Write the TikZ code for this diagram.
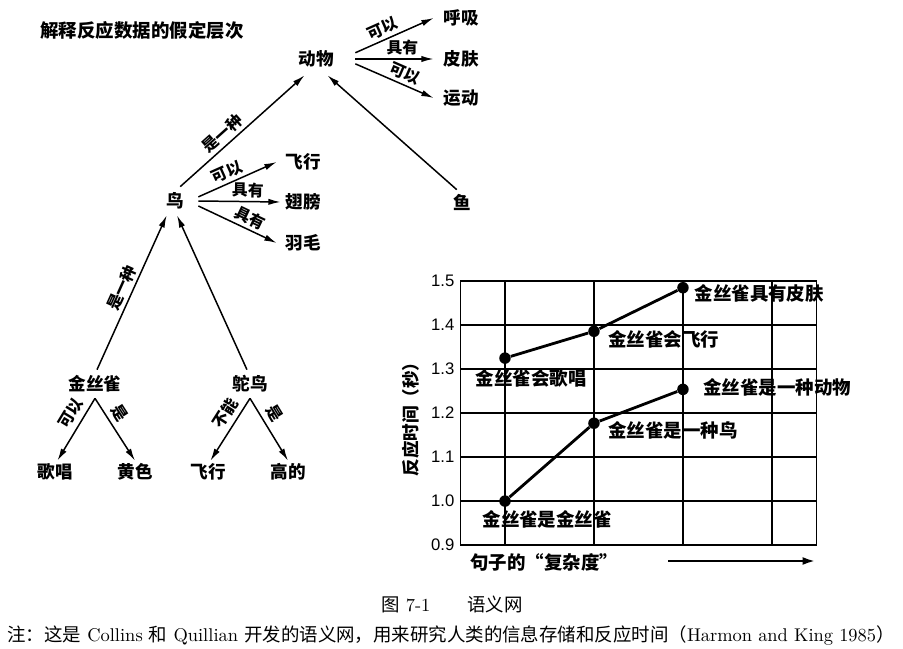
\documentclass[tikz,border=0pt]{standalone}
\usepackage{fontspec}
\newfontfamily\cjk{Noto Sans CJK SC}
\newfontfamily\numfont{Liberation Sans}
\usetikzlibrary{arrows.meta,positioning}

\begin{document}
\begin{tikzpicture}[x=0.02cm,y=-0.02cm,
    word/.style={font=\cjk\bfseries\fontsize{10}{12}\selectfont,inner sep=0pt,minimum height=0.48cm,minimum width=1.04cm},
    rel/.style={font=\cjk\bfseries\fontsize{9}{10}\selectfont,sloped,above,inner sep=1.8pt},
    link/.style={-{Latex[length=7pt,width=3.6pt]},line width=0.85pt},
    grid/.style={line width=0.8pt},
    dot/.style={circle,fill,inner sep=0pt,minimum size=0.23cm},
    series/.style={line width=1.6pt},
    ptlabel/.style={font=\cjk\bfseries\fontsize{10.5}{12}\selectfont,inner sep=0pt},
    ticklabel/.style={font=\numfont\fontsize{9.5}{11}\selectfont}]

\useasboundingbox (0,0) rectangle (903,649);

\node [ptlabel] (title) at (142,30) {解释反应数据的假定层次};

\node [word,minimum width=1.56cm,minimum height=0.64cm] (dw) at (316,59) {动物};
\node [word,minimum width=1.08cm] (hx) at (461,18) {呼吸};
\node [word,minimum width=1.08cm] (pf) at (461,59) {皮肤};
\node [word,minimum width=1.08cm] (yd) at (461,98) {运动};
\node [word,minimum width=0.92cm,minimum height=0.56cm] (nd) at (175,201) {鸟};
\node [word,minimum width=0.92cm] (yu) at (462,202) {鱼};
\node [word] (fx) at (303,162) {飞行};
\node [word,minimum width=0.88cm] (cb) at (303,202) {翅膀};
\node [word] (ym) at (303,243) {羽毛};
\node [word,minimum width=1.4cm,minimum height=0.56cm] (jsq) at (95,384) {金丝雀};
\node [word,minimum height=0.56cm] (tn) at (250,384) {鸵鸟};
\node [word,minimum height=0.44cm] (gc) at (55,472) {歌唱};
\node [word,minimum height=0.44cm] (hs) at (135,472) {黄色};
\node [word,minimum height=0.44cm] (fx2) at (208,472) {飞行};
\node [word,minimum height=0.44cm] (gd) at (288,472) {高的};

\draw [link] (dw.9) -- node [rel,pos=.4] {可以} (hx.west);
\draw [link] (dw.east) -- node [rel,pos=.6] {具有} (pf.west);
\draw [link] (dw.-7) -- node [rel,pos=.58] {可以} (yd.west);
\draw [link] (nd.70) -- node [rel,pos=.4] {是一种} (dw.235);
\draw [link] (yu.113) -- (dw.-55);
\draw [link] (nd.10) -- node [rel,pos=.42] {可以} (fx.west);
\draw [link] (nd.east) -- node [rel,pos=.6] {具有} (cb.west);
\draw [link] (nd.-12) -- node [rel,pos=.6] {具有} (ym.west);
\draw [link] (jsq.82) -- node [rel,pos=.5] {是一种} (nd.240);
\draw [link] (tn.102) -- (nd.-82);
\draw [link] (jsq.south) -- node [rel,pos=.35,inner sep=2.8pt] {可以} (gc.78);
\draw [link] (jsq.south) -- node [rel,pos=.35,inner sep=2.8pt] {是} (hs.north);
\draw [link] (tn.south) -- node [rel,pos=.35,inner sep=2.8pt] {不能} (fx2.78);
\draw [link] (tn.south) -- node [rel,pos=.35,inner sep=2.8pt] {是} (gd.north);

\begin{scope}[shift={(416,941)},x=1.78cm,y=8.8cm]
  \draw [grid] (0.5,0.9) rectangle (4.5,1.5);
  \foreach \v in {1.0,1.1,1.2,1.3,1.4}
    \draw [grid] (0.5,\v) -- (4.5,\v);
  \foreach \c in {1,...,4}
    \draw [grid] (\c,0.9) -- (\c,1.5);
  \foreach \v [count=\i] in {0.9,1.0,1.1,1.2,1.3,1.4,1.5}
    \node [ticklabel,left] (tick\i) at (0.5,\v) {\v};
  \node [dot] (a1) at (1,1.325) {};
  \node [dot] (a2) at (2,1.386) {};
  \node [dot] (a3) at (3,1.485) {};
  \node [dot] (b1) at (1,1.0) {};
  \node [dot] (b2) at (2,1.177) {};
  \node [dot] (b3) at (3,1.254) {};
  \draw [series] (a1) -- (a2) -- (a3);
  \draw [series] (b1) -- (b2) -- (b3);
\end{scope}

\node [ptlabel,right=3pt of a3,yshift=-3.5pt] (la3) {金丝雀具有皮肤};
\node [ptlabel,right=4.5pt of a2,yshift=-4.5pt] (la2) {金丝雀会飞行};
\node [ptlabel,below=3pt of a1,xshift=15pt] (la1) {金丝雀会歌唱};
\node [ptlabel,right=8pt of b3,yshift=1pt] (lb3) {金丝雀是一种动物};
\node [ptlabel,right=4.5pt of b2,yshift=-4pt] (lb2) {金丝雀是一种鸟};
\node [ptlabel,below=1.5pt of b1,xshift=24pt] (lb1) {金丝雀是金丝雀};

\node [ptlabel,rotate=90,font=\cjk\bfseries\fontsize{10}{12}\selectfont] (ylab) at (411,415) {反应时间（秒）};
\node [ptlabel,anchor=west] (xlab) at (470,562) {句子的“复杂度”};
\coordinate (xa) at (668,561);
\coordinate (xb) at (815,561);
\draw [-{Latex[length=7pt,width=4.5pt]},line width=1.2pt] (xa) -- (xb);

\node [font=\fontsize{10.5}{12}\selectfont] (cap) at (452,604) {{\cjk 图} 7-1\qquad{\cjk 语义网}};
\node [font=\fontsize{10.5}{12}\selectfont] (note) at (451,635) {{\cjk 注：这是} Collins {\cjk 和} Quillian {\cjk 开发的语义网，用来研究人类的信息存储和反应时间（}Harmon and King 1985{\cjk ）}};
\end{tikzpicture}
\end{document}
